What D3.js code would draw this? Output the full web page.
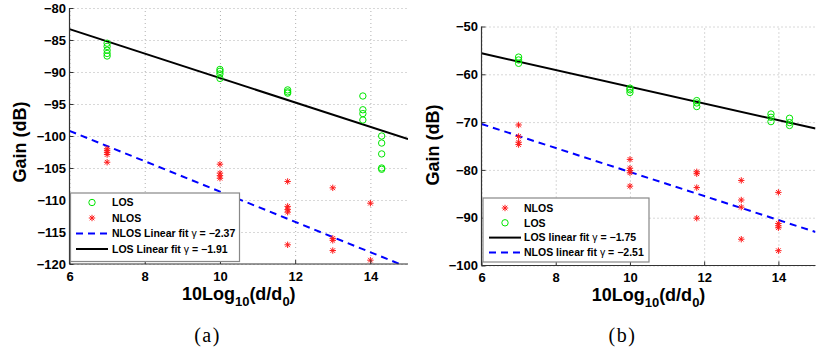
<!DOCTYPE html>
<html>
<head>
<meta charset="utf-8">
<script src="https://cdn.jsdelivr.net/npm/d3@7"></script>
<style>
  body { margin: 0; background: #fff; }
  svg text { font-family: "Liberation Sans", Arial, Helvetica, sans-serif; }
</style>
</head>
<body>
<svg id="chart" width="819" height="356"></svg>
<script>
// ---- axis ticks ----
const xTicks  = [6, 8, 10, 12, 14];
const yTicksA = [-80, -85, -90, -95, -100, -105, -110, -115, -120];
const yTicksB = [-50, -60, -70, -80, -90, -100];

// ---- panel (a): measured gain vs 10log10(d/d0) ----
const losDistA  = [7, 7, 7, 7, 7, 10, 10, 10, 10, 11.8, 11.8, 11.8, 13.8, 13.8, 13.8, 13.8, 14.3, 14.3, 14.3, 14.3, 14.3];
const losGainA  = [-85.5, -86.0, -86.6, -87.1, -87.5, -89.6, -89.9, -90.3, -91.0, -92.8, -93.1, -93.3, -93.75, -95.9, -96.5, -97.5, -100.0, -101.1, -102.8, -105.0, -105.2];
const nlosDistA = [7, 7, 7, 7, 7, 10, 10, 10, 10, 11.8, 11.8, 11.8, 11.8, 11.8, 13, 13, 13, 13, 14, 14];
const nlosGainA = [-102.0, -102.3, -102.6, -102.9, -104.1, -104.4, -105.8, -106.2, -106.6, -107.1, -111.0, -111.5, -111.9, -117.0, -108.1, -116.0, -116.3, -117.9, -110.5, -119.4];
// linear fits: slope gamma and gain at x = 6
const fitNamesA = ["NLOS", "LOS"];
const fitGammaA = [-2.37, -1.91];
const fitStartA = [-99.2, -83.3];

// ---- panel (b) ----
const losDistB  = [7, 7, 7, 10, 10, 10, 11.8, 11.8, 11.8, 13.8, 13.8, 13.8, 14.3, 14.3, 14.3];
const losGainB  = [-56.4, -57.0, -57.7, -62.9, -63.25, -63.8, -65.5, -66.0, -66.75, -68.3, -69.0, -69.9, -69.2, -70.1, -70.7];
const nlosDistB = [7, 7, 7, 7, 10, 10, 10, 10, 10, 11.8, 11.8, 11.8, 11.8, 13, 13, 13, 13, 14, 14, 14, 14, 14];
const nlosGainB = [-70.6, -73.0, -74.2, -74.7, -77.8, -79.65, -80.15, -80.6, -83.4, -80.4, -80.8, -83.7, -90.1, -82.2, -86.3, -87.8, -94.5, -84.7, -91.2, -91.7, -92.1, -96.9];
const fitNamesB = ["LOS", "NLOS"];
const fitGammaB = [-1.75, -2.51];
const fitStartB = [-55.6, -70.4];

const GREEN = "#00e600", RED = "#ff1a1a", BLUE = "#0000ff", BLACK = "#000";
const svg = d3.select("#chart");

function fitStyle(name) {
  return name === "LOS"
    ? { stroke: BLACK, dash: null }
    : { stroke: BLUE, dash: "7,5" };
}

function drawCircle(g, x, y) {
  g.append("circle").attr("cx", x).attr("cy", y).attr("r", 3.2)
    .attr("fill", "none").attr("stroke", GREEN).attr("stroke-width", 1);
}
function drawStar(g, x, y) {
  const r = 3.2, d = r * 0.72;
  const p = `M${x - r},${y}L${x + r},${y}M${x},${y - r}L${x},${y + r}` +
            `M${x - d},${y - d}L${x + d},${y + d}M${x - d},${y + d}L${x + d},${y - d}`;
  g.append("path").attr("d", p).attr("stroke", RED).attr("stroke-width", 1).attr("fill", "none");
}

function panel(cfg) {
  const { id, left, right, top, bottom, yDomain, yTicks } = cfg;
  const x = d3.scaleLinear().domain([6, 15]).range([left, right]);
  const y = d3.scaleLinear().domain(yDomain).range([bottom, top]);
  const g = svg.append("g");

  // dotted grid
  g.append("g").attr("transform", `translate(0,${bottom})`)
    .call(d3.axisBottom(x).tickValues(xTicks).tickSize(-(bottom - top)).tickFormat(""))
    .call(s => s.select(".domain").remove())
    .call(s => s.selectAll("line").attr("stroke", "#b0b0b0").attr("stroke-dasharray", "1,3"));
  g.append("g").attr("transform", `translate(${left},0)`)
    .call(d3.axisLeft(y).tickValues(yTicks).tickSize(-(right - left)).tickFormat(""))
    .call(s => s.select(".domain").remove())
    .call(s => s.selectAll("line").attr("stroke", "#b0b0b0").attr("stroke-dasharray", "1,3"));

  // clip for fit lines
  g.append("clipPath").attr("id", "clip" + id)
    .append("rect").attr("x", left).attr("y", top).attr("width", right - left).attr("height", bottom - top);

  const line = d3.line().x(d => x(d[0])).y(d => y(d[1]));
  cfg.fitNames.forEach((name, i) => {
    const st = fitStyle(name);
    const pts = [6, 15].map(v => [v, cfg.fitStart[i] + cfg.fitGamma[i] * (v - 6)]);
    g.append("path").attr("d", line(pts)).attr("clip-path", `url(#clip${id})`)
      .attr("fill", "none").attr("stroke", st.stroke).attr("stroke-width", 2)
      .attr("stroke-dasharray", st.dash);
  });

  // markers
  const mk = g.append("g");
  cfg.losDist.forEach((d, i) => drawCircle(mk, x(d), y(cfg.losGain[i])));
  cfg.nlosDist.forEach((d, i) => drawStar(mk, x(d), y(cfg.nlosGain[i])));

  // axes
  const ax = g.append("g").attr("transform", `translate(0,${bottom})`)
    .call(d3.axisBottom(x).tickValues(xTicks).tickSizeInner(-4).tickSizeOuter(0).tickPadding(7.5));
  const ay = g.append("g").attr("transform", `translate(${left},0)`)
    .call(d3.axisLeft(y).tickValues(yTicks).tickSizeInner(-4).tickSizeOuter(0).tickPadding(3.5));
  [ax, ay].forEach(a => {
    a.select(".domain").attr("stroke", "#333").attr("stroke-width", 1.2);
    a.selectAll(".tick line").attr("stroke", "#333");
    a.selectAll("text").attr("font-size", 13).attr("font-weight", "bold").attr("fill", "#000")
      .style("font-family", '"Liberation Sans", Arial, sans-serif');
  });
  // extend the bottom domain to the right edge, and left domain over the full height
  ax.select(".domain").attr("d", `M${left},0H${right}`);
  ay.select(".domain").attr("d", `M0,${top}V${bottom}`);

  // axis titles
  const cx = (left + right) / 2;
  const xl = g.append("text").attr("x", cx).attr("y", cfg.xLabelY)
    .attr("text-anchor", "middle").attr("font-weight", "bold").attr("font-size", 18);
  xl.append("tspan").text("10Log");
  xl.append("tspan").attr("font-size", 13).attr("dy", 6).text("10");
  xl.append("tspan").attr("dy", -6).text("(d/d");
  xl.append("tspan").attr("font-size", 13).attr("dy", 6).text("0");
  xl.append("tspan").attr("dy", -6).text(")");

  g.append("text").attr("transform", `translate(${cfg.yLabelX},${cfg.yLabelY}) rotate(-90)`)
    .attr("text-anchor", "middle").attr("font-weight", "bold").attr("font-size", 18)
    .text("Gain (dB)");

  // caption
  g.append("text").attr("x", cfg.capX).attr("y", 342).attr("text-anchor", "middle")
    .attr("font-size", 20).attr("letter-spacing", 1.5)
    .style("font-family", '"Liberation Serif", "Times New Roman", serif')
    .text(cfg.caption);

  // legend
  const L = cfg.legend;
  const lg = g.append("g");
  lg.append("rect").attr("x", L.x).attr("y", L.y).attr("width", L.w).attr("height", L.h)
    .attr("fill", "#fff").attr("stroke", "#888").attr("stroke-width", 1.2);
  L.items.forEach((it, i) => {
    const yy = L.y + L.first + i * L.step;
    const mx = (L.lineX0 + L.lineX1) / 2;
    if (it.kind === "LOS") drawCircle(lg, mx, yy);
    else if (it.kind === "NLOS") drawStar(lg, mx, yy);
    else {
      const st = fitStyle(it.kind === "fitLOS" ? "LOS" : "NLOS");
      lg.append("line").attr("x1", L.lineX0).attr("x2", L.lineX1).attr("y1", yy).attr("y2", yy)
        .attr("stroke", st.stroke).attr("stroke-width", 2).attr("stroke-dasharray", st.dash);
    }
    const t = lg.append("text").attr("x", L.textX).attr("y", yy).attr("dy", "0.36em")
      .attr("font-size", L.fs).attr("font-weight", "bold");
    t.append("tspan").text(it.label);
    if (it.gamma !== undefined) {
      t.append("tspan").attr("font-weight", "normal").attr("dx", 3).text("γ");
      t.append("tspan").text(" = " + d3.format(".2f")(it.gamma));
    }
  });
}

panel({
  id: "a", left: 69.5, right: 408, top: 8, bottom: 264,
  yDomain: [-120, -80], yTicks: yTicksA,
  losDist: losDistA, losGain: losGainA, nlosDist: nlosDistA, nlosGain: nlosGainA,
  fitNames: fitNamesA, fitGamma: fitGammaA, fitStart: fitStartA,
  xLabelY: 299.5, yLabelX: 26, yLabelY: 142, capX: 207.5, caption: "(a)",
  legend: {
    x: 70.5, y: 193, w: 169, h: 68.5, first: 9.5, step: 15.5, fs: 10.5,
    lineX0: 76, lineX1: 108, textX: 112,
    items: [
      { kind: "LOS", label: "LOS" },
      { kind: "NLOS", label: "NLOS" },
      { kind: "fitNLOS", label: "NLOS Linear fit", gamma: fitGammaA[0] },
      { kind: "fitLOS", label: "LOS Linear fit", gamma: fitGammaA[1] }
    ]
  }
});

panel({
  id: "b", left: 481.5, right: 815.5, top: 26.5, bottom: 265.5,
  yDomain: [-100, -50], yTicks: yTicksB,
  losDist: losDistB, losGain: losGainB, nlosDist: nlosDistB, nlosGain: nlosGainB,
  fitNames: fitNamesB, fitGamma: fitGammaB, fitStart: fitStartB,
  xLabelY: 300.5, yLabelX: 439, yLabelY: 145, capX: 622.5, caption: "(b)",
  legend: {
    x: 483, y: 198, w: 166, h: 64, first: 10, step: 14.8, fs: 10.5,
    lineX0: 489, lineX1: 521, textX: 524,
    items: [
      { kind: "NLOS", label: "NLOS" },
      { kind: "LOS", label: "LOS" },
      { kind: "fitLOS", label: "LOS linear fit", gamma: fitGammaB[0] },
      { kind: "fitNLOS", label: "NLOS linear fit", gamma: fitGammaB[1] }
    ]
  }
});
</script>
</body>
</html>
